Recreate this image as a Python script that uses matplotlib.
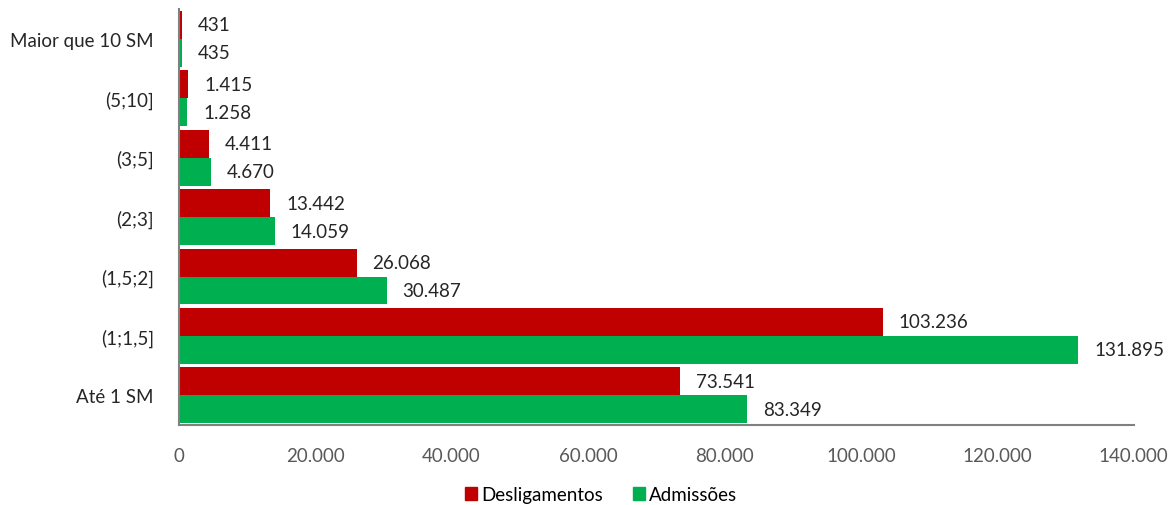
import numpy as np
import matplotlib
matplotlib.use('Agg')
import matplotlib.pyplot as plt
from matplotlib.patches import Patch

plt.rcParams['font.family'] = ['Lato', 'DejaVu Sans']

categories = ['Até 1 SM', '(1;1,5]', '(1,5;2]', '(2;3]', '(3;5]', '(5;10]', 'Maior que 10 SM']
desligamentos = [73541, 103236, 26068, 13442, 4411, 1415, 431]
admissoes = [83349, 131895, 30487, 14059, 4670, 1258, 435]
x_ticks = [0, 20000, 40000, 60000, 80000, 100000, 120000, 140000]

RED = '#C00000'
GREEN = '#00B050'


def fmt_br(v):
    return f'{v:,.0f}'.replace(',', '.')


fig = plt.figure(figsize=(11.76, 5.06), dpi=100)
ax = fig.add_axes([0.152, 0.158, 0.812, 0.822])

y = np.arange(len(categories))
h = 0.47
ax.barh(y + h / 2, desligamentos, height=h, color=RED, label='Desligamentos')
ax.barh(y - h / 2, admissoes, height=h, color=GREEN, label='Admissões')

for yi, v in zip(y, desligamentos):
    ax.text(v + 2300, yi + h / 2, fmt_br(v), va='center', ha='left', fontsize=13.5, color='#262626')
for yi, v in zip(y, admissoes):
    ax.text(v + 2300, yi - h / 2, fmt_br(v), va='center', ha='left', fontsize=13.5, color='#262626')

ax.set_xlim(0, 140000)
ax.set_ylim(-0.5, len(categories) - 0.5)
ax.set_xticks(x_ticks)
ax.set_xticklabels([fmt_br(t) for t in x_ticks], fontsize=13.5, color='#595959')
ax.set_yticks(y)
ax.set_yticklabels(categories, fontsize=13.5, color='#262626')
ax.tick_params(axis='both', length=0)
ax.tick_params(axis='x', pad=16)
ax.tick_params(axis='y', pad=18)

for side in ['top', 'right']:
    ax.spines[side].set_visible(False)
for side in ['left', 'bottom']:
    ax.spines[side].set_color('#808080')
    ax.spines[side].set_linewidth(1.5)

handles = [Patch(color=RED, label='Desligamentos'), Patch(color=GREEN, label='Admissões')]
fig.legend(handles=handles, loc='lower center', bbox_to_anchor=(0.511, -0.03), ncol=2,
           frameon=False, fontsize=13.5, handlelength=0.65, handleheight=0.65,
           handletextpad=0.2, columnspacing=1.6)

fig.savefig('out.png', dpi=100)
